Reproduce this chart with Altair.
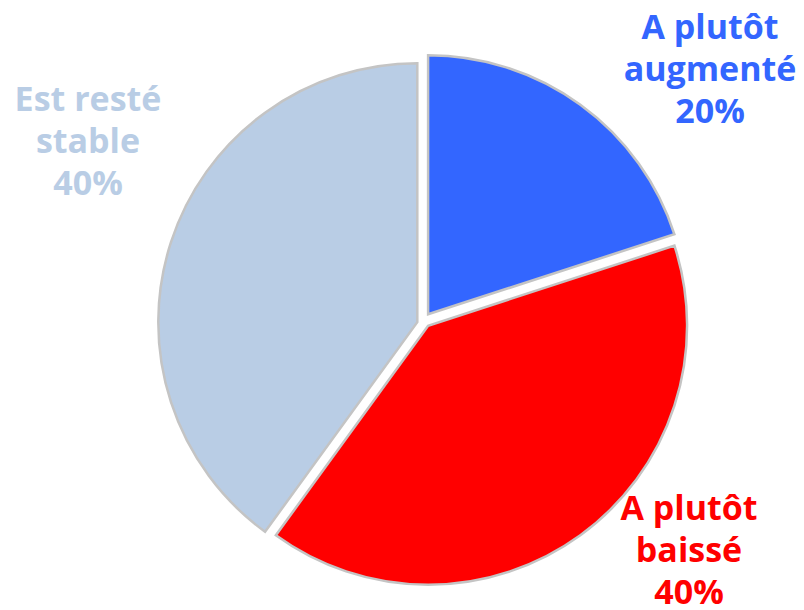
import altair as alt
import pandas as pd

categories = ["A plutôt augmenté", "A plutôt baissé", "Est resté stable"]
values = [20, 40, 40]
slice_order = [1, 2, 3]
label_lines = [["A plutôt", "augmenté"], ["A plutôt", "baissé"], ["Est resté", "stable"]]
slice_colors = ["#3366FF", "#FF0000", "#B9CDE5"]
text_colors = ["#226CFF", "#FF0000", "#8EAED6"]

df = pd.DataFrame({
    "category": categories,
    "value": values,
    "ord": slice_order,
    "label": ["\n".join(lines + [f"{v}%"]) for lines, v in zip(label_lines, values)],
})

base = (
    alt.Chart(df)
    .transform_joinaggregate(total="sum(value)")
    .transform_window(cum="sum(value)", sort=[alt.SortField("ord")])
    .transform_calculate(
        t1="datum.cum / datum.total * 2 * PI",
        t0="(datum.cum - datum.value) / datum.total * 2 * PI",
    )
)

color_scale = alt.Scale(domain=categories, range=slice_colors)
text_scale = alt.Scale(domain=categories, range=text_colors)

R = 259
cx, cy = 416, 312
# explosion offsets along each slice bisector (style, not data)
centers = {
    "A plutôt augmenté": (cx + 4.1, cy - 5.7),
    "A plutôt baissé": (cx + 4.1, cy + 5.7),
    "Est resté stable": (cx - 6.7, cy + 2.2),
}
label_pos = {
    "A plutôt augmenté": (702, 21),
    "A plutôt baissé": (681, 502),
    "Est resté stable": (80, 93),
}

layers = []
for c in categories:
    px, py = centers[c]
    layers.append(
        base.transform_filter(alt.datum.category == c)
        .mark_arc(outerRadius=R, stroke="#c4c4c4", strokeWidth=2.5)
        .encode(
            theta=alt.Theta("t0:Q", scale=None),
            theta2="t1:Q",
            color=alt.Color("category:N", scale=color_scale, legend=None),
            x=alt.value(px),
            y=alt.value(py),
        )
    )
for c in categories:
    lx, ly = label_pos[c]
    layers.append(
        base.transform_filter(alt.datum.category == c)
        .mark_text(
            font="Open Sans", fontWeight="bold", fontSize=34,
            lineBreak="\n", lineHeight=42, align="center", baseline="middle",
        )
        .encode(
            text="label:N",
            color=alt.Color("category:N", scale=text_scale, legend=None),
            x=alt.value(lx),
            y=alt.value(ly),
        )
    )

chart = (
    alt.layer(*layers)
    .properties(width=788, height=602, autosize=alt.AutoSizeParams(type="none"), padding=0)
    .configure_view(stroke=None)
)

chart.save("out.html", embed_options={"renderer": "svg", "actions": False})
